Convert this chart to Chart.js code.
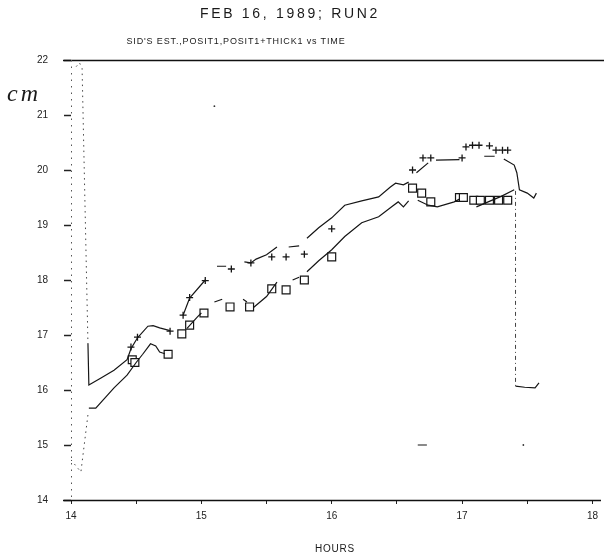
<!DOCTYPE html>
<html>
<head>
<meta charset="utf-8">
<script src="https://cdn.jsdelivr.net/npm/chart.js@4/dist/chart.umd.min.js"></script>
<style>
  html, body { margin:0; padding:0; background:#fff; }
  #wrap { position:relative; width:604px; height:558px; overflow:hidden; }
  canvas { position:absolute; left:0; top:0; }
  .txt { position:absolute; color:#1a1a1a; font-family:"Liberation Sans", "DejaVu Sans", sans-serif; white-space:nowrap; }
  #title { left:0; width:580px; top:5px; text-align:center; font-size:14px; letter-spacing:2.7px; }
  #subtitle { left:0; width:472px; top:36px; text-align:center; font-size:9px; letter-spacing:0.85px; }
  #cm { left:7px; top:80px; font-family:"Liberation Serif", "DejaVu Serif", serif; font-style:italic; font-size:24px; letter-spacing:3px; }
  #hours { left:0; width:670px; top:543px; text-align:center; font-size:10px; letter-spacing:0.8px; }
</style>
</head>
<body>
<div id="wrap">
  <canvas id="c" width="604" height="558"></canvas>
  <div class="txt" id="title">FEB 16, 1989; RUN2</div>
  <div class="txt" id="subtitle">SID'S EST.,POSIT1,POSIT1+THICK1 vs TIME</div>
  <div class="txt" id="cm">cm</div>
  <div class="txt" id="hours">HOURS</div>
</div>
<script>
// ---- data (hours, cm); null = gap in the drawn curve ----
const upperX = [14.13,14.137,14.23,14.33,14.43,14.46,14.51,14.59,14.63,14.68,14.76, 14.8,
  14.86,14.91,15.03, 15.07,
  15.12,15.19, 15.26,
  15.33,15.38,15.42,15.5,15.58, 15.62,
  15.67,15.75, 15.78,
  15.81,15.9,16.0,16.1,16.23,16.36,16.45,16.49,16.55,16.59, 16.62,
  16.65,16.74, 16.77,
  16.80,16.98, 17.1,
  17.17,17.25, 17.28,
  17.32,17.40,17.42,17.44,17.50,17.55,17.57];
const upperY = [16.85,16.09,16.22,16.36,16.55,16.75,16.95,17.16,17.17,17.13,17.08, null,
  17.36,17.67,18.0, null,
  18.25,18.25, null,
  18.33,18.31,18.38,18.46,18.6, null,
  18.6,18.62, null,
  18.76,18.95,19.13,19.36,19.44,19.51,19.69,19.76,19.73,19.78, null,
  19.95,20.13, null,
  20.18,20.19, null,
  20.25,20.25, null,
  20.2,20.09,19.95,19.64,19.58,19.49,19.58];

const lowerX = [14.137,14.19,14.33,14.43,14.5,14.55,14.61,14.65,14.68,14.72, 14.8,
  14.89,14.97,15.0, 15.05,
  15.1,15.16, 15.25,
  15.32,15.35, 15.38,
  15.4,15.5,15.58, 15.64,
  15.7,15.75, 15.78,
  15.81,15.9,16.0,16.1,16.23,16.36,16.47,16.51,16.55,16.59, 16.62,
  16.66,16.74,16.81,16.94,16.98, 17.05,
  17.11,17.2,17.3,17.4];
const lowerY = [15.67,15.67,16.04,16.27,16.5,16.65,16.84,16.8,16.69,16.66, null,
  17.12,17.33,17.4, null,
  17.6,17.65, null,
  17.65,17.6, null,
  17.5,17.7,17.96, null,
  18.0,18.05, null,
  18.15,18.35,18.55,18.79,19.04,19.15,19.35,19.42,19.33,19.44, null,
  19.45,19.36,19.33,19.42,19.47, null,
  19.33,19.42,19.52,19.64];

const plusX = [14.46,14.51,14.76,14.86,14.91,15.03,15.23,15.38,15.54,15.65,15.79,16.0,16.62,16.70,16.76,17.0,17.03,17.08,17.13,17.21,17.26,17.31,17.35];
const plusY = [16.78,16.96,17.07,17.36,17.68,17.99,18.2,18.31,18.42,18.42,18.47,18.93,20.0,20.22,20.22,20.22,20.42,20.45,20.45,20.44,20.36,20.36,20.36];

const squareX = [14.47,14.49,14.745,14.85,14.91,15.02,15.22,15.37,15.54,15.65,15.79,16.0,16.62,16.69,16.76,16.98,17.01,17.09,17.14,17.21,17.28,17.35];
const squareY = [16.55,16.5,16.65,17.02,17.18,17.4,17.51,17.51,17.84,17.82,18.0,18.42,19.67,19.58,19.42,19.5,19.5,19.45,19.45,19.45,19.45,19.45];

// dotted drop traces at the start and the dashed drop at the end
const dropUpperX = [14.04,14.065,14.085,14.13];
const dropUpperY = [21.88,21.95,21.85,16.85];
const dropLowerX = [14.0,14.076,14.13];
const dropLowerY = [14.73,14.51,15.55];
const dropEndX = [17.41,17.41];
const dropEndY = [19.62,16.07];
const tailX = [17.41,17.48,17.56,17.59];
const tailY = [16.07,16.05,16.04,16.13];
const strayX = [16.66,16.73];
const strayY = [15.0,15.0];
const dotX = [15.1,17.47];
const dotY = [21.16,15.0];

const xTickLabels = ['14','15','16','17','18'];
const yTickLabels = ['14','15','16','17','18','19','20','21','22'];

function pts(xs, ys) { return xs.map((x, i) => ({ x: x, y: ys[i] })); }

const INK = '#161616';
const lineDs = (xs, ys, extra) => Object.assign({
  data: pts(xs, ys), showLine: true, borderColor: INK, borderWidth: 1.2,
  pointRadius: 0, spanGaps: false, tension: 0, fill: false
}, extra || {});

const framePlugin = {
  id: 'frame',
  afterDraw(chart) {
    const { ctx, chartArea: a } = chart;
    ctx.save();
    ctx.strokeStyle = '#111';
    ctx.lineWidth = 1.6;
    ctx.beginPath();
    ctx.moveTo(a.left - 8, a.top + 0.5); ctx.lineTo(chart.width, a.top + 0.5);
    ctx.moveTo(a.left - 8, a.bottom + 0.5); ctx.lineTo(chart.width - 3, a.bottom + 0.5);
    ctx.stroke();
    // faint dotted y-axis line
    ctx.strokeStyle = '#555';
    ctx.lineWidth = 1;
    ctx.setLineDash([1.5, 5]);
    ctx.beginPath();
    ctx.moveTo(a.left + 0.5, a.top); ctx.lineTo(a.left + 0.5, a.bottom);
    ctx.stroke();
    ctx.restore();
  }
};

new Chart(document.getElementById('c'), {
  type: 'scatter',
  data: {
    datasets: [
      lineDs(upperX, upperY),
      lineDs(lowerX, lowerY),
      lineDs(dropUpperX, dropUpperY, { borderDash: [1.5, 4], borderColor: '#444', borderWidth: 1 }),
      lineDs(dropLowerX, dropLowerY, { borderDash: [1.5, 4], borderColor: '#444', borderWidth: 1 }),
      lineDs(dropEndX, dropEndY, { borderDash: [4, 3, 1, 3], borderColor: '#444', borderWidth: 1 }),
      lineDs(tailX, tailY),
      lineDs(strayX, strayY),
      { data: pts(dotX, dotY), showLine: false, pointRadius: 0.9, backgroundColor: '#333', borderWidth: 0 },
      { data: pts(plusX, plusY), showLine: false, pointStyle: 'cross', pointRadius: 3.5,
        borderColor: INK, borderWidth: 1.3 },
      { data: pts(squareX, squareY), showLine: false, pointStyle: 'rect', pointRadius: 5.6,
        borderColor: INK, backgroundColor: '#fff', borderWidth: 1.2 }
    ]
  },
  options: {
    responsive: false,
    animation: false,
    devicePixelRatio: 1,
    layout: { padding: { top: 60, left: 0, right: 6, bottom: 28 } },
    plugins: { legend: { display: false }, tooltip: { enabled: false }, title: { display: false } },
    scales: {
      x: {
        type: 'linear', min: 14, max: 18,
        afterFit(s) { s.height = 30; },
        afterBuildTicks(s) { s.ticks = [14,14.5,15,15.5,16,16.5,17,17.5,18].map(v => ({ value: v })); },
        ticks: {
          autoSkip: false, maxRotation: 0, padding: 6,
          color: '#222', font: { family: 'Liberation Sans', size: 10 },
          callback: (v) => Number.isInteger(v) ? xTickLabels[v - 14] : ''
        },
        grid: { drawOnChartArea: false, tickLength: 4, color: '#222', tickWidth: 1 },
        border: { display: false }
      },
      y: {
        type: 'linear', min: 14, max: 22,
        afterFit(s) { s.width = 71; },
        ticks: {
          stepSize: 1, padding: 16, color: '#222',
          font: { family: 'Liberation Sans', size: 10 },
          callback: (v) => Number.isInteger(v) ? yTickLabels[v - 14] : ''
        },
        grid: { drawOnChartArea: false, tickLength: 7, color: '#222', tickWidth: 1.5 },
        border: { display: false }
      }
    }
  },
  plugins: [framePlugin]
});
</script>
</body>
</html>
